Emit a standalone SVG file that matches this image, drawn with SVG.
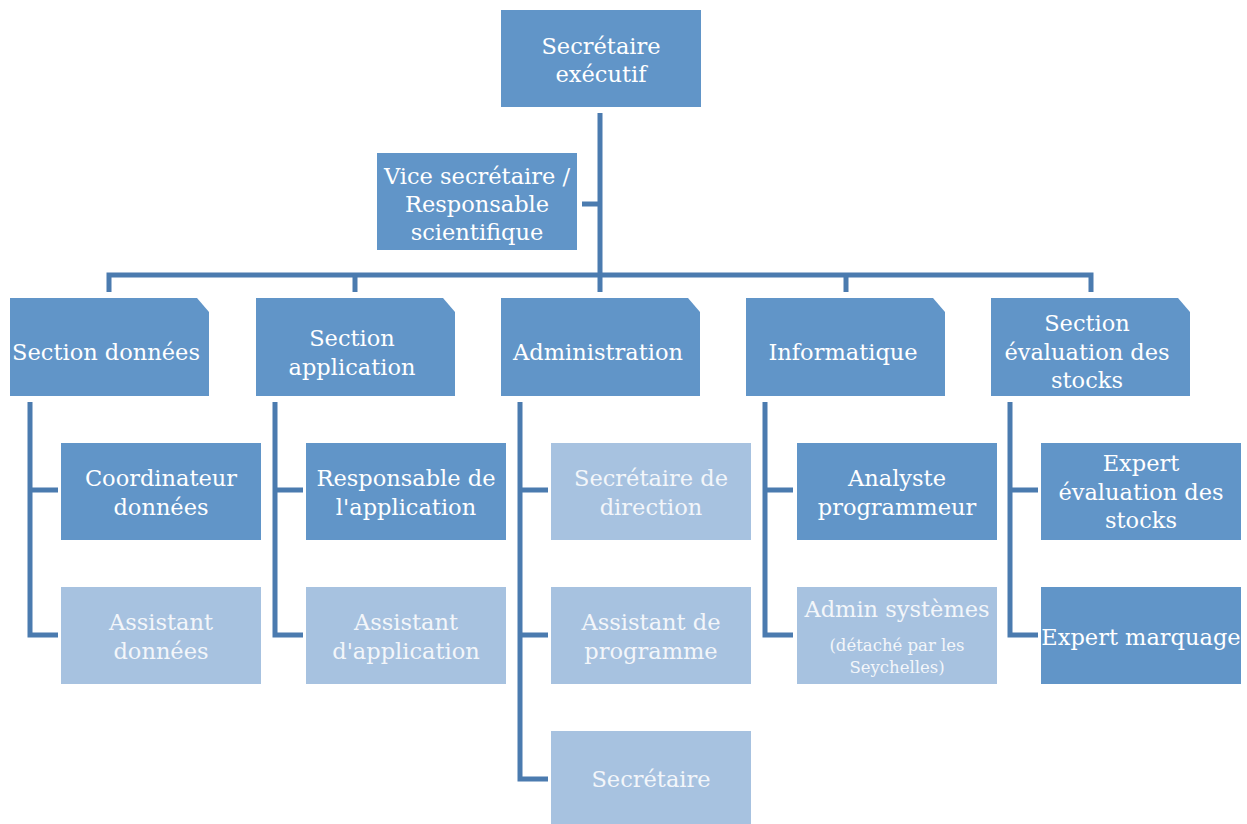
<svg xmlns="http://www.w3.org/2000/svg" width="1247" height="824" viewBox="0 0 1247 824">
<style>
.d{fill:#6195C8}
.l{fill:#A7C2E0}
.t{font-family:"DejaVu Serif","Liberation Serif",serif;font-size:22.5px;fill:#ffffff;text-anchor:middle}
.tl{fill:#F3F6FA}
.s{font-size:16.5px}
.c{fill:none;stroke:#4B7BAF;stroke-width:5;stroke-linejoin:miter;stroke-linecap:butt}
</style>
<rect width="1247" height="824" fill="#ffffff"/>
<g id="connectors" class="c">
<path d="M600,113 V292"/>
<path d="M582,204 H600"/>
<path d="M109,292 V275 H1091 V292"/>
<path d="M355,275 V292"/>
<path d="M846,275 V292"/>
<path d="M30,402 V635 H58 M30,490 H58"/>
<path d="M275,402 V635 H303 M275,490 H303"/>
<path d="M520,402 V779 H548 M520,490 H548 M520,635 H548"/>
<path d="M765,402 V635 H793 M765,490 H793"/>
<path d="M1010,402 V635 H1038 M1010,490 H1038"/>
</g>
<g id="n-exec"><rect class="d" x="501" y="10" width="200" height="97"/>
<text class="t" x="601" y="54">Secrétaire</text><text class="t" x="601" y="82">exécutif</text></g>
<g id="n-vice"><rect class="d" x="377" y="153" width="200" height="97"/>
<text class="t" x="477" y="184">Vice secrétaire /</text><text class="t" x="477" y="212">Responsable</text><text class="t" x="477" y="240">scientifique</text></g>
<g id="n-sd"><path class="d" d="M10,298 H197 L209,312 V396 H10 Z"/>
<text class="t" x="106" y="360">Section données</text></g>
<g id="n-sa"><path class="d" d="M256,298 H443 L455,312 V396 H256 Z"/>
<text class="t" x="352" y="346">Section</text><text class="t" x="352" y="375">application</text></g>
<g id="n-adm"><path class="d" d="M501,298 H688 L700,312 V396 H501 Z"/>
<text class="t" x="598" y="360">Administration</text></g>
<g id="n-inf"><path class="d" d="M746,298 H933 L945,312 V396 H746 Z"/>
<text class="t" x="843" y="360">Informatique</text></g>
<g id="n-se"><path class="d" d="M991,298 H1178 L1190,312 V396 H991 Z"/>
<text class="t" x="1087" y="331">Section</text><text class="t" x="1087" y="360">évaluation des</text><text class="t" x="1087" y="388">stocks</text></g>
<g id="n-coord"><rect class="d" x="61" y="443" width="200" height="97"/>
<text class="t" x="161" y="486">Coordinateur</text><text class="t" x="161" y="515">données</text></g>
<g id="n-ad"><rect class="l" x="61" y="587" width="200" height="97"/>
<text class="t tl" x="161" y="630">Assistant</text><text class="t tl" x="161" y="659">données</text></g>
<g id="n-resp"><rect class="d" x="306" y="443" width="200" height="97"/>
<text class="t" x="406" y="486">Responsable de</text><text class="t" x="406" y="515">l'application</text></g>
<g id="n-aa"><rect class="l" x="306" y="587" width="200" height="97"/>
<text class="t tl" x="406" y="630">Assistant</text><text class="t tl" x="406" y="659">d'application</text></g>
<g id="n-sdir"><rect class="l" x="551" y="443" width="200" height="97"/>
<text class="t tl" x="651" y="486">Secrétaire de</text><text class="t tl" x="651" y="515">direction</text></g>
<g id="n-ap"><rect class="l" x="551" y="587" width="200" height="97"/>
<text class="t tl" x="651" y="630">Assistant de</text><text class="t tl" x="651" y="659">programme</text></g>
<g id="n-sec"><rect class="l" x="551" y="731" width="200" height="93"/>
<text class="t tl" x="651" y="787">Secrétaire</text></g>
<g id="n-anal"><rect class="d" x="797" y="443" width="200" height="97"/>
<text class="t" x="897" y="486">Analyste</text><text class="t" x="897" y="515">programmeur</text></g>
<g id="n-sys"><rect class="l" x="797" y="587" width="200" height="97"/>
<text class="t tl" x="897" y="617">Admin systèmes</text><text class="t tl s" x="897" y="651">(détaché par les</text><text class="t tl s" x="897" y="673">Seychelles)</text></g>
<g id="n-exp"><rect class="d" x="1041" y="443" width="200" height="97"/>
<text class="t" x="1141" y="471">Expert</text><text class="t" x="1141" y="500">évaluation des</text><text class="t" x="1141" y="528">stocks</text></g>
<g id="n-marq"><rect class="d" x="1041" y="587" width="200" height="97"/>
<text class="t" x="1141" y="645">Expert marquage</text></g>
</svg>
